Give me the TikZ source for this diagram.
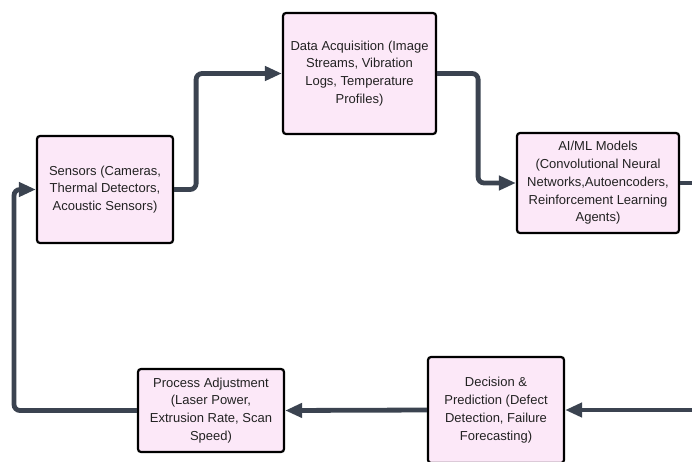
\documentclass[tikz,border=0pt]{standalone}
\usepackage{fontspec}
\setmainfont{Liberation Sans}
\usetikzlibrary{arrows.meta}
\definecolor{boxfill}{HTML}{FCE8F8}
\definecolor{conncol}{HTML}{3B4350}
\definecolor{txtcol}{HTML}{222222}
\tikzset{
  stepbox/.style={draw=black, line width=2.2pt, fill=boxfill, rounded corners=3pt,
    align=center, inner sep=0pt, text=txtcol, font=\fontsize{13}{17.8}\selectfont},
  conn/.style={draw=conncol, line width=4.8pt, rounded corners=6pt,
    -{Triangle[length=17pt,width=14pt]}},
  plain/.style={draw=conncol, line width=4.8pt, rounded corners=6pt}
}
\begin{document}
\begin{tikzpicture}[x=1pt,y=-1pt]
\useasboundingbox (0,0) rectangle (692,461);
\node[stepbox, minimum width=136pt, minimum height=107pt] (sens) at (105,189.5)
  {Sensors (Cameras,\\Thermal Detectors,\\Acoustic Sensors)};
\node[stepbox, minimum width=153pt, minimum height=121pt] (daq) at (359.5,73.5)
  {Data Acquisition (Image\\Streams, Vibration\\Logs, Temperature\\Profiles)};
\node[stepbox, minimum width=162pt, minimum height=100pt] (ai) at (598,183)
  {AI/ML Models\\(Convolutional Neural\\Networks,Autoencoders,\\Reinforcement Learning\\Agents)};
\node[stepbox, minimum width=146pt, minimum height=83pt] (proc) at (211,410.5)
  {Process Adjustment\\(Laser Power,\\Extrusion Rate, Scan\\Speed)};
\node[stepbox, minimum width=136pt, minimum height=106pt] (dec) at (496,410)
  {Decision \&\\Prediction (Defect\\Detection, Failure\\Forecasting)};
\coordinate (rout) at (692,183);
\coordinate (rin) at (692,410);
\draw[conn] (sens.east) -- ++(22,0) |- (daq.west);
\draw[conn] (daq.east) -- ++(41,0) |- (ai.west);
\draw[plain] (ai.east) -- (rout);
\draw[conn] (rin) -- (dec.east);
\draw[conn] (dec.west) -- (proc.east);
\draw[conn] (proc.west) -- (14,410.5) |- (sens.west);
\end{tikzpicture}
\end{document}
